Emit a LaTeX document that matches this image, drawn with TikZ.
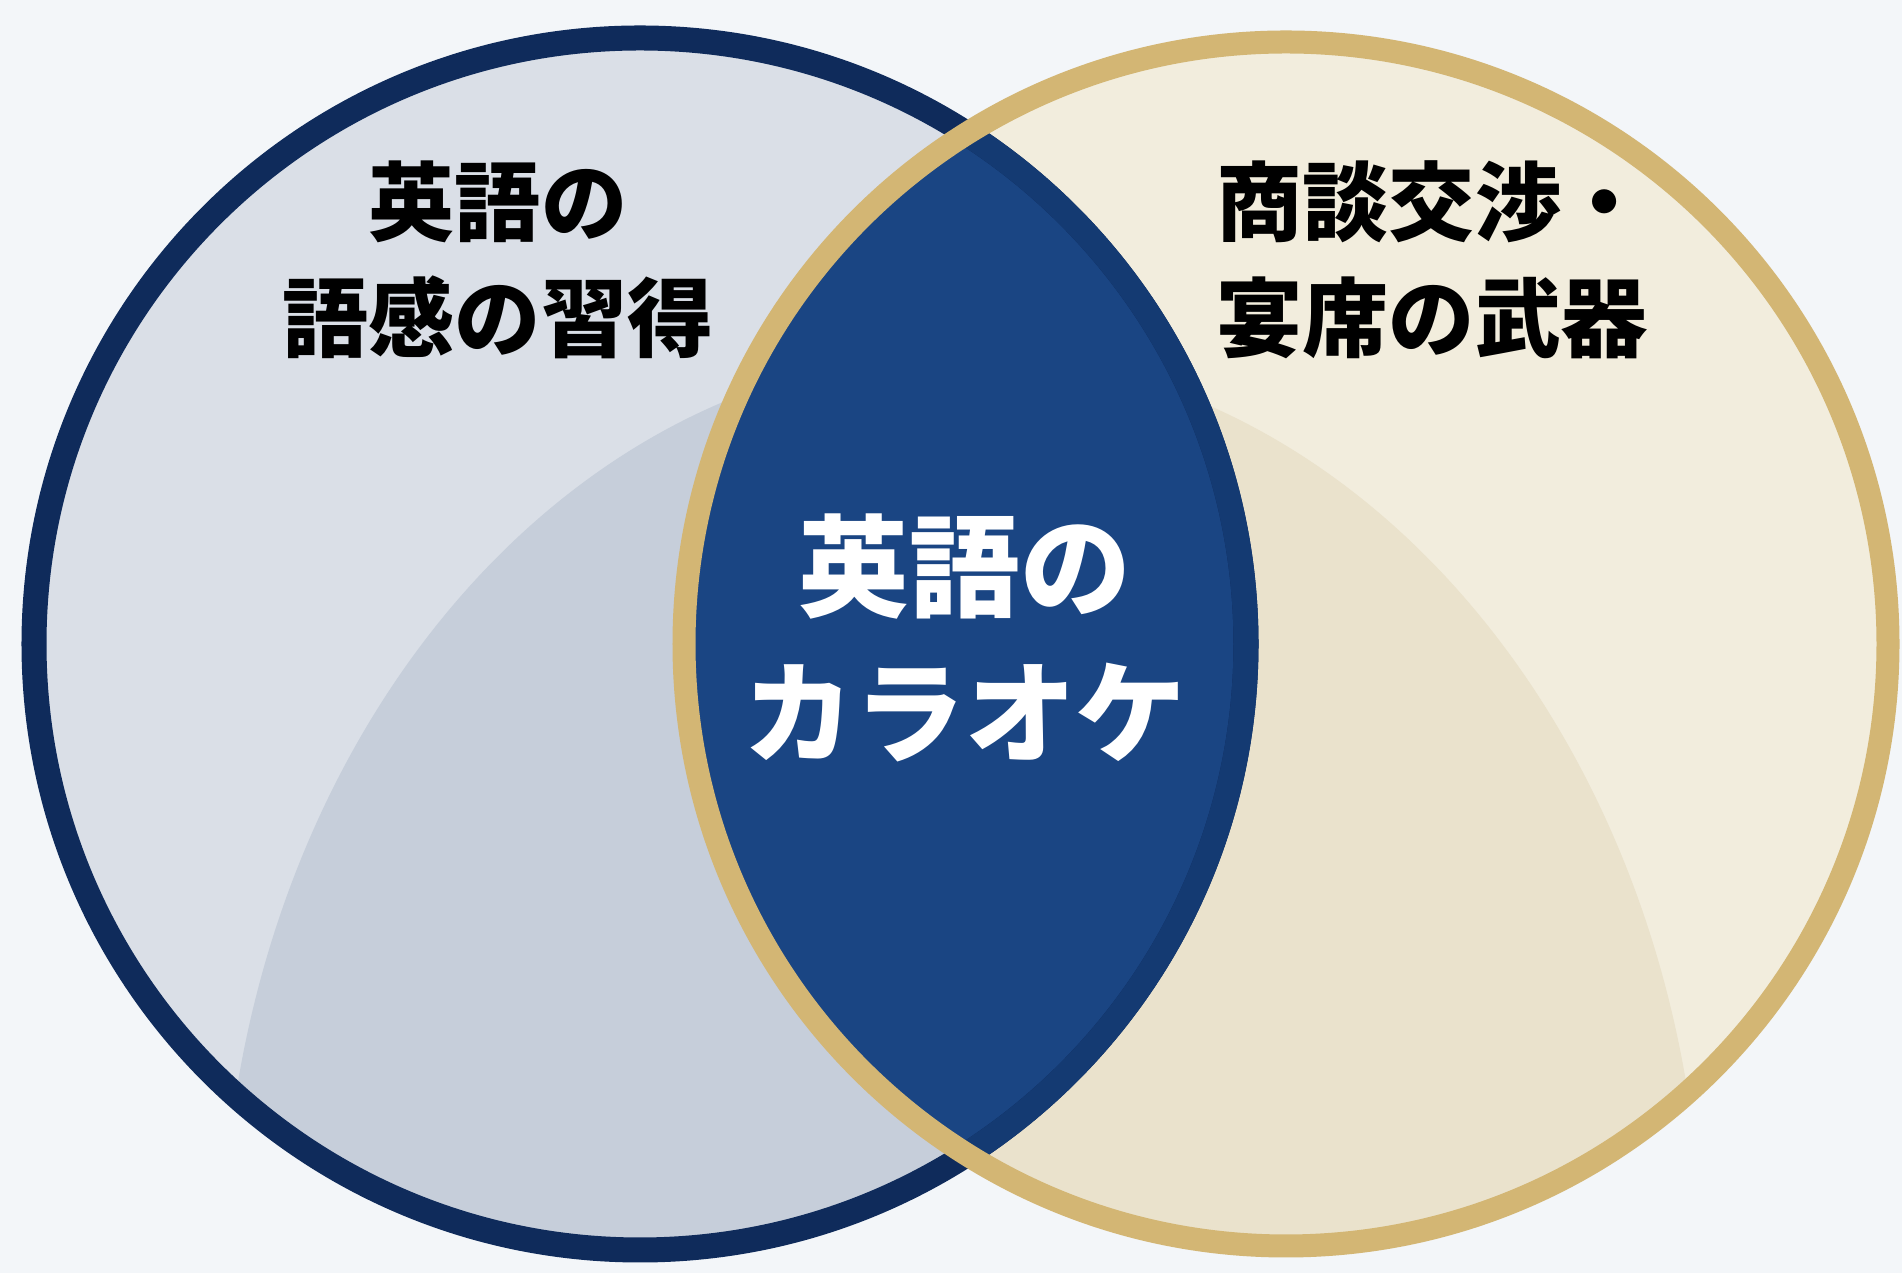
\documentclass[tikz,border=0pt]{standalone}
\usepackage{fontspec}
\newfontfamily\jpfont{Noto Sans CJK JP}

\definecolor{bgpaper}{HTML}{F3F6F9}
\definecolor{navyring}{HTML}{0F2B5B}
\definecolor{lensrim}{HTML}{143A72}
\definecolor{lensblue}{HTML}{1A4583}
\definecolor{goldring}{HTML}{D3B674}
\definecolor{greyfill}{HTML}{DADFE7}
\definecolor{greydome}{HTML}{C6CEDA}
\definecolor{creamfill}{HTML}{F2EDDD}
\definecolor{creamdome}{HTML}{EAE2CC}

\tikzset{
  title/.style={font=\jpfont\bfseries\fontsize{24.5}{33}\selectfont,
    align=center,inner sep=0pt,text=black},
  core/.style={font=\jpfont\bfseries\fontsize{31.5}{41.5}\selectfont,
    align=center,inner sep=0pt,text=white},
}

\begin{document}
\begin{tikzpicture}[x=0.01cm,y=0.01cm]

\fill [bgpaper] (0,0) rectangle (1902,1273);
\useasboundingbox (0,0) rectangle (1902,1273);

\coordinate (lc) at (640,629);
\coordinate (rc) at (1286,629);
\coordinate (dome) at (962,0);

% circle fills with the faint arch
\fill [greyfill] (lc) circle (606);
\begin{scope}
  \clip (lc) circle (606);
  \fill [greydome] (dome) ellipse (740 and 920);
\end{scope}
\fill [creamfill] (rc) circle (602);
\begin{scope}
  \clip (rc) circle (602);
  \fill [creamdome] (dome) ellipse (740 and 920);
\end{scope}

% overlap
\begin{scope}
  \clip (lc) circle (606);
  \fill [lensblue] (rc) circle (602);
\end{scope}

\path [draw,navyring,line width=2.5mm] (lc) circle (606);
\begin{scope}
  \clip (rc) circle (602);
  \path [draw,lensrim,line width=2.5mm] (lc) circle (606);
\end{scope}
\path [draw,goldring,line width=2.3mm] (rc) circle (602);

\node [title] (skill) at (498,1013) {英語の\\語感の習得};
\node [title] (deal) at (1432,1013) {商談交渉・\\宴席の武器};
\node [core] (karaoke) at (965,635) {英語の\\カラオケ};

\end{tikzpicture}
\end{document}
